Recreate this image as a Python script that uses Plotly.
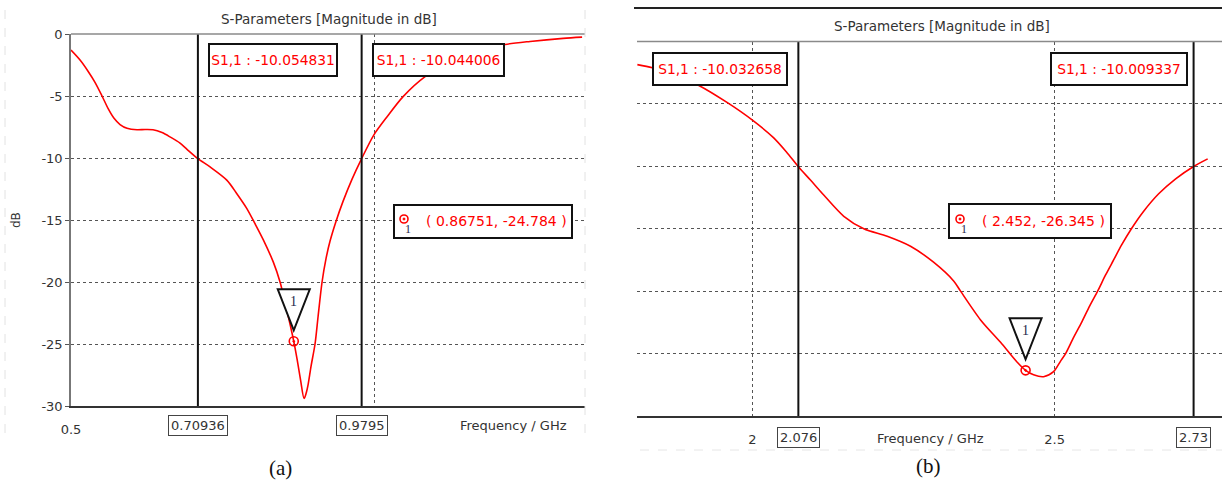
import plotly.graph_objects as go

# ---------------- data ----------------
# Panel (a)
freq_a = [0.500, 0.5149, 0.5281, 0.5396, 0.5512, 0.5611, 0.5710, 0.5809, 0.5924, 0.6089,
          0.6221, 0.6353, 0.6502, 0.6634, 0.6799, 0.6914, 0.70936, 0.7294, 0.7574, 0.7739,
          0.7899, 0.8036, 0.8173, 0.8338, 0.8449, 0.8548, 0.86751, 0.8729, 0.8787, 0.8845,
          0.8878, 0.8911, 0.8960, 0.9026, 0.9076, 0.9142, 0.9208, 0.9274, 0.9373, 0.9488,
          0.9637, 0.9795, 0.9995, 1.0215, 1.0479, 1.0842, 1.1172, 1.1502, 1.1832, 1.2162,
          1.2574, 1.3119, 1.3432]
s11_a = [-1.3, -2.1, -3.0, -3.9, -5.0, -6.0, -6.8, -7.3, -7.6, -7.72,
         -7.7, -7.72, -7.95, -8.3, -8.8, -9.3, -10.055, -10.72, -11.8, -12.9,
         -14.06, -15.3, -16.6, -18.4, -20.0, -22.0, -24.784, -26.2, -27.9, -29.4,
         -29.0, -28.3, -26.8, -25.0, -22.8, -20.0, -18.1, -16.7, -15.1, -13.5,
         -11.7, -10.044, -8.15, -6.67, -5.05, -3.44, -2.5, -1.8, -1.25, -0.85,
         -0.6, -0.35, -0.25]
vlines_a = [0.70936, 0.9795]
vlabels_a = ["0.70936", "0.9795"]
vvalues_a = ["S1,1 : -10.054831", "S1,1 : -10.044006"]
marker_a = (0.86751, -24.784)
marker_text_a = "( 0.86751, -24.784 )"

# Panel (b)
freq_b = [1.8096, 1.8344, 1.8725, 1.9106, 1.9586, 2.000, 2.0348, 2.0563, 2.076, 2.0960,
          2.1180, 2.1512, 2.1843, 2.2230, 2.2616, 2.3002, 2.3333, 2.3444, 2.3775, 2.4106,
          2.4382, 2.452, 2.4652, 2.4818, 2.4983, 2.5099, 2.5182, 2.5315, 2.5447, 2.5579,
          2.5712, 2.5844, 2.5977, 2.6109, 2.6258, 2.6474, 2.6722, 2.7003, 2.730, 2.7533]
s11_b = [-1.85, -2.1, -2.7, -3.5, -4.9, -6.3, -7.7, -8.85, -10.033, -11.1,
         -12.3, -14.0, -15.0, -15.6, -16.4, -17.7, -19.2, -20.0, -22.3, -24.1,
         -25.7, -26.345, -26.7, -26.85, -26.45, -25.6, -25.0, -23.7, -22.5, -21.2,
         -20.0, -18.7, -17.5, -16.3, -15.1, -13.6, -12.2, -11.0, -10.009, -9.4]
vlines_b = [2.076, 2.73]
vlabels_b = ["2.076", "2.73"]
vvalues_b = ["S1,1 : -10.032658", "S1,1 : -10.009337"]
marker_b = (2.452, -26.345)
marker_text_b = "( 2.452, -26.345 )"

y_ticks = [0, -5, -10, -15, -20, -25, -30]
y_ticktext = ["0", "-5", "-10", "-15", "-20", "-25", "-30"]

# ---------------- layout helpers ----------------
W, H = 1222, 487
FONT = "DejaVu Sans"
RED = "#ff0000"
GREY = "#333333"


def px(x):
    return x / W


def py(y):
    return 1 - y / H


fig = go.Figure()

line_style = dict(color=RED, width=1.6, shape="spline", smoothing=0.8)
fig.add_trace(go.Scatter(x=freq_a, y=s11_a, mode="lines", xaxis="x", yaxis="y",
                         line=line_style, hoverinfo="skip"))
fig.add_trace(go.Scatter(x=freq_b, y=s11_b, mode="lines", xaxis="x2", yaxis="y2",
                         line=line_style, hoverinfo="skip"))
mk = dict(symbol="circle-open-dot", size=9, color=RED, line=dict(width=1.6))
fig.add_trace(go.Scatter(x=[marker_a[0]], y=[marker_a[1]], mode="markers", xaxis="x", yaxis="y",
                         marker=mk, hoverinfo="skip"))
fig.add_trace(go.Scatter(x=[marker_b[0]], y=[marker_b[1]], mode="markers", xaxis="x2", yaxis="y2",
                         marker=mk, hoverinfo="skip"))

shapes = []
annotations = []


def text(x, y, t, size=13, color=GREY, family=FONT, **kw):
    d = dict(x=x, y=y, xref="paper", yref="paper", text=t, showarrow=False,
             xanchor="center", yanchor="middle", font=dict(family=family, size=size, color=color))
    d.update(kw)
    annotations.append(d)


# vertical marker lines
for xv in vlines_a:
    shapes.append(dict(type="line", xref="x", yref="y", x0=xv, x1=xv, y0=0, y1=-30,
                       line=dict(color="#111111", width=2)))
for xv in vlines_b:
    shapes.append(dict(type="line", xref="x2", yref="y2", x0=xv, x1=xv, y0=0, y1=-30,
                       line=dict(color="#111111", width=2)))

# top frame lines
shapes.append(dict(type="line", xref="x domain", yref="y domain", x0=0, x1=1, y0=1, y1=1,
                   line=dict(color="#8a8a8a", width=1.5)))
shapes.append(dict(type="line", xref="x2 domain", yref="y2 domain", x0=0, x1=1, y0=1, y1=1,
                   line=dict(color="#8a8a8a", width=1.5)))
# dark border on top of panel (b)
shapes.append(dict(type="line", xref="paper", yref="paper", x0=px(634), x1=1, y0=py(8), y1=py(8),
                   line=dict(color="#222222", width=2)))
# faint page borders
for xx in (5, 585):
    shapes.append(dict(type="line", xref="paper", yref="paper", x0=px(xx), x1=px(xx),
                       y0=py(10), y1=py(440), line=dict(color="#e2e2e2", width=1, dash="dash")))
shapes.append(dict(type="line", xref="paper", yref="paper", x0=px(640), x1=1,
                   y0=py(450), y1=py(450), line=dict(color="#e6e6e6", width=1, dash="dash")))

# marker triangles (pixel-sized, anchored to the marker point)
for (mx, my), xr, yr in ((marker_a, "x", "y"), (marker_b, "x2", "y2")):
    shapes.append(dict(type="path", xref=xr, yref=yr, xsizemode="pixel", ysizemode="pixel",
                       xanchor=mx, yanchor=my, path="M -16 52 L 16 52 L 0 11 Z",
                       fillcolor="white", line=dict(color="#111111", width=2)))
    annotations.append(dict(x=mx, y=my, xref=xr, yref=yr, text="1", showarrow=False,
                            xanchor="center", yanchor="middle",
                            yshift=40, font=dict(family="Liberation Serif", size=14, color="#1f2a4d")))


def box(t, x0, x1, y0, y1, color=RED, size=13.8, bw=2, bcol="#111111"):
    text(px((x0 + x1) / 2), py((y0 + y1) / 2), t, size=size, color=color,
         width=(x1 - x0) - 2 * bw, height=(y1 - y0) - 2 * bw, borderpad=0,
         bgcolor="white", bordercolor=bcol, borderwidth=bw)


# value boxes at top
box(vvalues_a[0], 208, 338, 43, 77)
box(vvalues_a[1], 372, 505, 43, 77)
box(vvalues_b[0], 652, 788, 52, 86)
box(vvalues_b[1], 1050, 1188, 52, 86)

# marker info boxes
for (x0, x1, y0, y1, cx, txt) in ((394, 572, 205, 238, 404, marker_text_a),
                                  (949, 1111, 204, 238, 960, marker_text_b)):
    shapes.append(dict(type="rect", xref="paper", yref="paper", x0=px(x0), x1=px(x1),
                       y0=py(y0), y1=py(y1), fillcolor="white", line=dict(color="#111111", width=2)))
    cy = 219
    shapes.append(dict(type="circle", xref="paper", yref="paper", x0=px(cx - 4), x1=px(cx + 4),
                       y0=py(cy - 4), y1=py(cy + 4), line=dict(color=RED, width=1.6)))
    shapes.append(dict(type="circle", xref="paper", yref="paper", x0=px(cx - 1), x1=px(cx + 1),
                       y0=py(cy - 1), y1=py(cy + 1), fillcolor=RED, line=dict(color=RED, width=1)))
    text(px(cx + 4), py(229), "1", size=12, color="#1f2a4d", family="Liberation Serif")
    text(px(cx + 20), py(221), txt, size=14, color=RED, xanchor="left")

# axis marker label boxes
for xv, lab in zip(vlines_a, vlabels_a):
    annotations.append(dict(x=xv, y=py(425), xref="x", yref="paper", text=lab, showarrow=False,
                            xanchor="center", yanchor="middle",
                            bgcolor="white", bordercolor="#444444", borderwidth=1, borderpad=2,
                            font=dict(family=FONT, size=13, color=GREY)))
for xv, lab in zip(vlines_b, vlabels_b):
    annotations.append(dict(x=xv, y=py(437), xref="x2", yref="paper", text=lab, showarrow=False,
                            xanchor="center", yanchor="middle",
                            bgcolor="white", bordercolor="#444444", borderwidth=1, borderpad=2,
                            font=dict(family=FONT, size=13, color=GREY)))

# titles and axis titles
text(px(329), py(19), "S-Parameters [Magnitude in dB]", size=13.5)
text(px(942), py(26), "S-Parameters [Magnitude in dB]", size=13.5)
text(px(513), py(425), "Frequency / GHz", size=13)
text(px(930), py(438), "Frequency / GHz", size=13)
text(px(16), py(220), "dB", size=12, textangle=-90)
text(px(280), py(468), "(a)", size=21, color="#111111", family="Liberation Serif")
text(px(928), py(466), "(b)", size=21, color="#111111", family="Liberation Serif")

grid = dict(showgrid=True, gridcolor="#555555", gridwidth=1, griddash="dot", zeroline=False,
            automargin=False)

fig.update_layout(
    width=W, height=H, margin=dict(l=0, r=0, t=0, b=0, autoexpand=False),
    paper_bgcolor="white", plot_bgcolor="white", showlegend=False,
    font=dict(family=FONT, size=13, color=GREY),
    xaxis=dict(domain=[px(71), px(585)], range=[0.5, 1.348], tickvals=[0.5, 1.0], ticktext=["0.5", ""],
               showline=True, linecolor=GREY, linewidth=2, ticks="", anchor="y",
               ticklabelstandoff=10, tickfont=dict(size=13, color=GREY), **grid),
    yaxis=dict(domain=[py(406), py(34)], range=[-30, 0], tickvals=y_ticks, ticktext=y_ticktext,
               showline=True, linecolor="#777777", linewidth=1.5, ticks="outside", ticklen=4,
               tickcolor="#555555", anchor="x", tickfont=dict(size=13, color=GREY), **grid),
    xaxis2=dict(domain=[px(637), 1.0], range=[1.809, 2.777], tickvals=[2.0, 2.5], ticktext=["2", "2.5"],
                showline=True, linecolor=GREY, linewidth=2, ticks="", anchor="y2",
                ticklabelstandoff=10, tickfont=dict(size=13, color=GREY), **grid),
    yaxis2=dict(domain=[py(416), py(41.5)], range=[-30, 0], tickvals=y_ticks[1:-1],
                showticklabels=False, showline=False, anchor="x2", **grid),
    shapes=shapes, annotations=annotations,
)

fig.write_html("out.html")
